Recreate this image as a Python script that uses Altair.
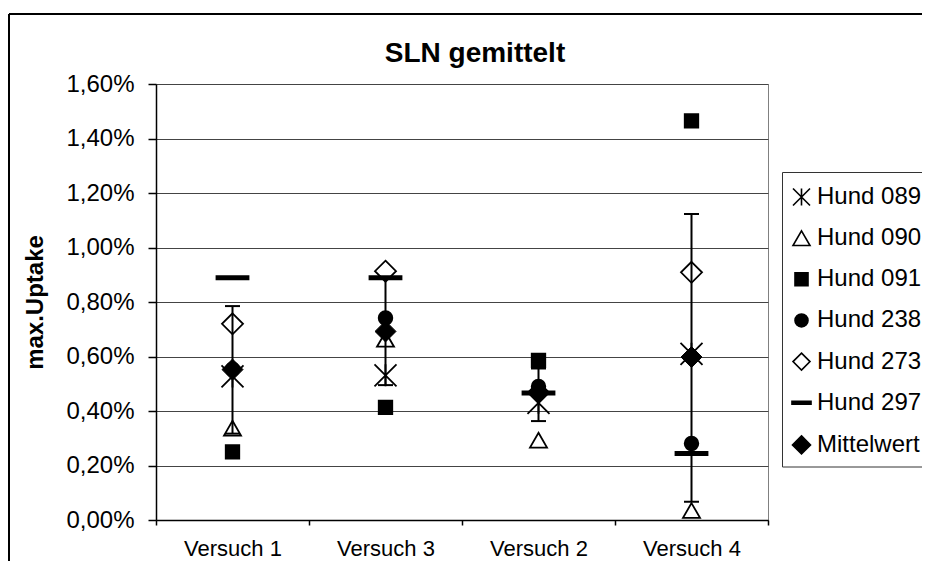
import altair as alt
import pandas as pd

# ---------------- data ----------------
categories = ["Versuch 1", "Versuch 3", "Versuch 2", "Versuch 4"]
series_names = ["Hund 089", "Hund 090", "Hund 091", "Hund 238", "Hund 273", "Hund 297"]
hund_089 = [0.527, 0.531, 0.430, 0.610]
hund_090 = [0.337, 0.663, 0.293, 0.035]
hund_091 = [0.250, 0.413, 0.586, 1.465]
hund_238 = [0.553, 0.741, 0.490, 0.281]
hund_273 = [0.720, 0.913, 0.468, 0.909]
hund_297 = [0.889, 0.889, 0.466, 0.244]
mittelwert = [0.552, 0.692, 0.466, 0.598]
err_low = [0.317, 0.495, 0.363, 0.067]
err_high = [0.785, 0.889, 0.556, 1.123]
legend_names = series_names + ["Mittelwert"]
y_ticks = [0.0, 0.2, 0.4, 0.6, 0.8, 1.0, 1.2, 1.4, 1.6]
title_text = "SLN gemittelt"
y_title = "max.Uptake"

FONT = "Liberation Sans"

series_values = [hund_089, hund_090, hund_091, hund_238, hund_273, hund_297]
dogs = pd.DataFrame(
    [
        {"cat": c, "series": s, "v": vals[i]}
        for s, vals in zip(series_names, series_values)
        for i, c in enumerate(categories)
    ]
)
stats = pd.DataFrame({"cat": categories, "mean": mittelwert, "lo": err_low, "hi": err_high})

# ---------------- marker shapes ----------------
# plot markers (drawn at size 484 -> unit = 11 px)
plot_paths = [
    "M-1,-1L1,1M-1,1L1,-1M0,-1L0,1",                                   # star (x with bar)
    "M0,-0.67L0.773,0.67L-0.773,0.67Z",                                # triangle
    "M-0.614,-0.614L0.614,-0.614L0.614,0.614L-0.614,0.614Z",           # square
    "M0.62,0A0.62,0.62,0,1,1,-0.62,0A0.62,0.62,0,1,1,0.62,0Z",         # circle
    "M0,-0.955L0.955,0L0,0.955L-0.955,0Z",                             # diamond
    "M-1.455,-0.136L1.455,-0.136L1.455,0.136L-1.455,0.136Z",           # dash
]
plot_fills = ["transparent", "white", "black", "black", "white", "black"]
mean_path = "M0,-0.955L0.955,0L0,0.955L-0.955,0Z"

# legend markers (drawn at size 289 -> unit = 8.5 px)
legend_paths = [
    "M-1,-1L1,1M-1,1L1,-1M0,-1L0,1",
    "M0,-0.866L1,0.866L-1,0.866Z",
    "M-0.765,-0.765L0.765,-0.765L0.765,0.765L-0.765,0.765Z",
    "M0.765,0A0.765,0.765,0,1,1,-0.765,0A0.765,0.765,0,1,1,0.765,0Z",
    "M0,-1L1,0L0,1L-1,0Z",
    "M-1.12,-0.18L1.12,-0.18L1.12,0.18L-1.12,0.18Z",
    "M0,-1.06L1.06,0L0,1.06L-1.06,0Z",
]
legend_fills = ["transparent", "white", "black", "black", "white", "black", "black"]
legend_strokes = ["black"] * 7

# ---------------- encodings ----------------
x_enc = alt.X(
    "cat:N",
    scale=alt.Scale(type="band", domain=categories, paddingInner=0, paddingOuter=0),
    axis=alt.Axis(
        title=None, tickBand="extent", tickSize=5, tickColor="black", tickWidth=1.5,
        domainColor="black", domainWidth=1.5, labelAngle=0, labelFont=FONT,
        labelFontSize=22, labelColor="black", labelPadding=13.5, grid=False,
    ),
)
y_axis = alt.Axis(
    values=y_ticks,
    labelExpr="replace(format(datum.value, '.2f'), '.', ',') + '%'",
    title=y_title, titleFont=FONT, titleFontSize=24, titleFontWeight="bold",
    titleColor="black", titleAngle=-90, titleAlign="center", titleBaseline="middle",
    titleX=-121, titleY=218,
    labelFont=FONT, labelFontSize=24, labelColor="black", labelPadding=14,
    tickSize=8, tickColor="black", tickWidth=1.5,
    domainColor="black", domainWidth=1.5,
    grid=True, gridColor="#444444", gridWidth=1,
)
y_scale = alt.Scale(domain=[0, 1.6], nice=False, zero=True)


def y_enc(field):
    return alt.Y(field, scale=y_scale, axis=y_axis)


def leg():
    return alt.Legend(title=None)


one = pd.DataFrame({"a": [0]})
frame_top = alt.Chart(one).mark_rule(color="black", strokeWidth=2).encode(
    x=alt.value(-147), x2=alt.value(800), y=alt.value(-70)
)
frame_left = alt.Chart(one).mark_rule(color="black", strokeWidth=2).encode(
    x=alt.value(-147), y=alt.value(-70), y2=alt.value(600)
)
# legend box (open to the right edge like the reference)
legend_box = alt.Chart(one).mark_rect(
    fill="white", stroke="#333333", strokeWidth=1, opacity=1
).encode(
    x=alt.value(626.5), x2=alt.value(820), y=alt.value(88.5), y2=alt.value(383)
)

points = alt.Chart(dogs).mark_point(
    size=484, opacity=1, stroke="black", strokeWidth=1.8
).encode(
    x=x_enc,
    y=y_enc("v:Q"),
    shape=alt.Shape("series:N", scale=alt.Scale(domain=series_names, range=plot_paths), legend=None),
    fill=alt.Fill("series:N", scale=alt.Scale(domain=series_names, range=plot_fills), legend=None),
)

err_rule = alt.Chart(stats).mark_rule(color="black", strokeWidth=2, opacity=1).encode(
    x=x_enc, y=y_enc("lo:Q"), y2="hi:Q"
)
cap_lo = alt.Chart(stats).mark_tick(
    color="black", size=15, thickness=2, orient="horizontal", opacity=1
).encode(x=x_enc, y=y_enc("lo:Q"))
cap_hi = alt.Chart(stats).mark_tick(
    color="black", size=15, thickness=2, orient="horizontal", opacity=1
).encode(x=x_enc, y=y_enc("hi:Q"))

mean_pts = alt.Chart(stats).mark_point(
    shape=mean_path, size=484, fill="black", stroke="black", strokeWidth=1, opacity=1, filled=True
).encode(x=x_enc, y=y_enc("mean:Q"))

legend_layer = alt.Chart(pd.DataFrame({"series": legend_names})).mark_point(
    size=289, opacity=1, strokeWidth=1.6
).encode(
    x=alt.value(-600),
    y=alt.value(-600),
    shape=alt.Shape(
        "series:N", scale=alt.Scale(domain=legend_names, range=legend_paths), legend=leg()
    ),
    fill=alt.Fill(
        "series:N", scale=alt.Scale(domain=legend_names, range=legend_fills), legend=leg()
    ),
    stroke=alt.Stroke(
        "series:N", scale=alt.Scale(domain=legend_names, range=legend_strokes), legend=leg()
    ),
)

title = alt.Chart(one).mark_text(
    text=title_text, font=FONT, fontSize=28, fontWeight="bold", color="black",
    align="center", baseline="alphabetic",
).encode(x=alt.value(319), y=alt.value(-22))

chart = (
    alt.layer(frame_top, frame_left, legend_box, points, err_rule, cap_lo, cap_hi,
              mean_pts, legend_layer, title)
    .resolve_scale(shape="independent", fill="independent", stroke="independent")
    .properties(
        width=612,
        height=436,
        padding={"left": 148, "top": 76, "right": 154, "bottom": 41},
        autosize=alt.AutoSizeParams(type="none"),
        background="white",
    )
    .configure_view(stroke="#808080", strokeWidth=1)
    .configure_legend(
        orient="none", legendX=626, legendY=93.5, padding=7.5,
        strokeColor="transparent", fillColor="transparent",
        labelFont=FONT, labelFontSize=24, labelColor="black", labelOffset=3.5,
        rowPadding=17.15, symbolSize=289, symbolStrokeColor="black", symbolStrokeWidth=1.6,
        labelLimit=400,
    )
)

chart.save("out.html", embed_options={"renderer": "svg", "actions": False})
